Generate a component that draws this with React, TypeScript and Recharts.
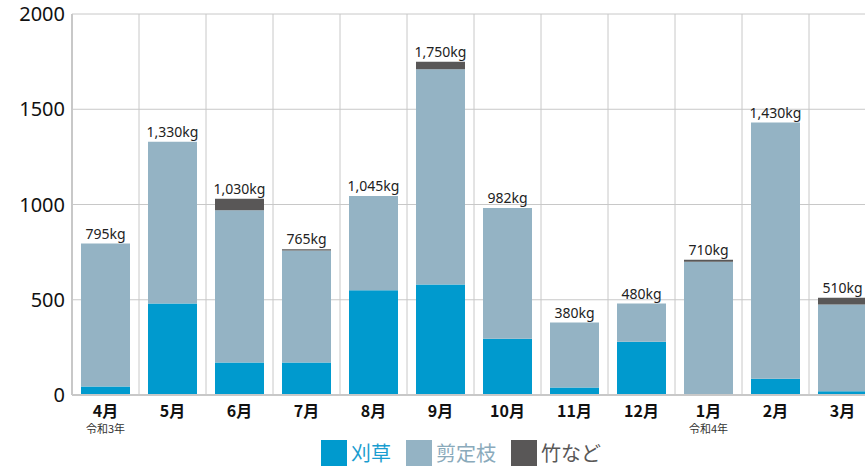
import React from 'react';
import { ComposedChart, Bar, Line, XAxis, YAxis, CartesianGrid, Legend, LabelList } from 'recharts';

const months = ['4月', '5月', '6月', '7月', '8月', '9月', '10月', '11月', '12月', '1月', '2月', '3月'];
const subLabels = ['令和3年', '', '', '', '', '', '', '', '', '令和4年', '', ''];
const totals = [795, 1330, 1030, 765, 1045, 1750, 982, 380, 480, 710, 1430, 510];
const kariKusa = [45, 480, 170, 170, 550, 580, 295, 40, 280, 5, 85, 20];
const take = [0, 0, 60, 7, 0, 40, 0, 0, 0, 10, 0, 35];
const yTicks = [0, 500, 1000, 1500, 2000];

const seriesNames = ['刈草', '剪定枝', '竹など'];
const colors = ['#009ACE', '#94B3C4', '#595757'];
const legendTextColors = ['#1a9dd0', '#8aaabb', '#595757'];

const data = months.map((m, i) => ({
  month: m,
  sub: subLabels[i],
  kari: kariKusa[i],
  sentei: totals[i] - kariKusa[i] - take[i],
  take: take[i],
  total: totals[i],
}));

const JP = '"Noto Sans CJK JP", "Noto Sans", sans-serif';

const MonthTick = (props: any) => {
  const { x, y, payload, index } = props;
  const sub = subLabels[index];
  return (
    <g>
      <text x={x} y={y + 14} textAnchor="middle" fontFamily={JP} fontWeight={700} fontSize={16} fill="#111">
        {payload.value}
      </text>
      {sub ? (
        <text x={x} y={y + 30} textAnchor="middle" fontFamily={JP} fontSize={11} fill="#333">
          {sub}
        </text>
      ) : null}
    </g>
  );
};

const TotalLabel = (props: any) => {
  const { x, y, value } = props;
  return (
    <text x={x} y={y - 5} textAnchor="middle" fontFamily={'"Noto Sans", sans-serif'} fontSize={14} fill="#222">
      {Number(value).toLocaleString('en-US')}kg
    </text>
  );
};

const LegendContent = () => (
  <div style={{ display: 'flex', justifyContent: 'center', alignItems: 'center', paddingLeft: 46, height: 28 }}>
    {seriesNames.map((n, i) => (
      <div key={n} style={{ display: 'flex', alignItems: 'center', marginRight: i < 2 ? 15 : 0 }}>
        <div style={{ width: 26, height: 26, background: colors[i], marginRight: 4 }} />
        <span style={{ fontFamily: JP, fontSize: 20, color: legendTextColors[i], lineHeight: '26px' }}>{n}</span>
      </div>
    ))}
  </div>
);

export default function App() {
  return (
    <div style={{ position: 'absolute', left: 0, top: 0, width: 865, height: 468, overflow: 'hidden', background: '#fff' }}>
      <ComposedChart width={880} height={468} data={data} margin={{ top: 14, right: 4, bottom: 1, left: 0 }} barSize={49}>
        <CartesianGrid
          stroke="#c8c8c8"
          strokeWidth={1}
          verticalCoordinatesGenerator={({ offset }: any) =>
            Array.from({ length: 13 }, (_, i) => offset.left + (i * offset.width) / 12)
          }
        />
        <XAxis
          dataKey="month"
          height={44}
          axisLine={{ stroke: '#c8c8c8', strokeWidth: 2 }}
          tickLine={false}
          tick={<MonthTick />}
          interval={0}
        />
        <YAxis
          width={72}
          domain={[0, 2000]}
          ticks={yTicks}
          axisLine={{ stroke: '#c8c8c8', strokeWidth: 2 }}
          tickLine={false}
          tickSize={0}
          tickMargin={7}
          tick={{ fontFamily: '"Liberation Sans Narrow", "Noto Sans", sans-serif', fontSize: 20, fill: '#111' }}
        />
        <Legend verticalAlign="bottom" height={28} content={<LegendContent />} />
        <Bar dataKey="kari" name="刈草" stackId="a" fill={colors[0]} isAnimationActive={false} />
        <Bar dataKey="sentei" name="剪定枝" stackId="a" fill={colors[1]} isAnimationActive={false} />
        <Bar dataKey="take" name="竹など" stackId="a" fill={colors[2]} isAnimationActive={false} />
        <Line dataKey="total" stroke="none" dot={false} activeDot={false} legendType="none" isAnimationActive={false}>
          <LabelList dataKey="total" content={<TotalLabel />} />
        </Line>
      </ComposedChart>
    </div>
  );
}
